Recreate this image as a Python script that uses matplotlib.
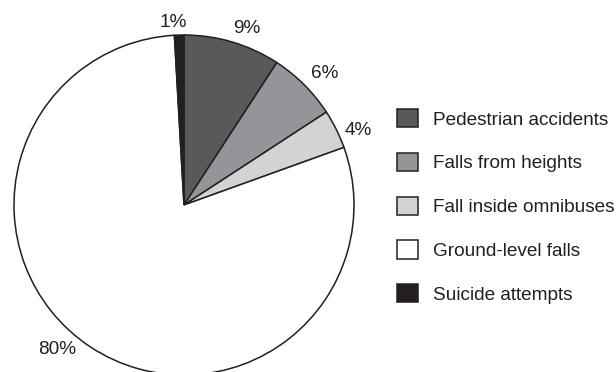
import numpy as np
import matplotlib
matplotlib.use("Agg")
import matplotlib.pyplot as plt
from matplotlib.patches import Patch

# ---- data ----
categories = ["Pedestrian accidents", "Falls from heights", "Fall inside omnibuses",
              "Ground-level falls", "Suicide attempts"]
shares = [9.2, 6.6, 3.7, 79.6, 0.9]
pct_labels = ["9%", "6%", "4%", "80%", "1%"]

# ---- styles / layout ----
colors = ["#58595b", "#939598", "#d1d3d4", "#ffffff", "#231f20"]
edge = "#231f20"
txt = "#231f20"
# label placement (polar angle in degrees, distance in radii)
label_pos = [(70.4, 1.105), (43.1, 1.136), (23.0, 1.115), (228.6, 1.13), (93.4, 1.078)]

plt.rcParams['font.family'] = ['Liberation Sans', 'DejaVu Sans']
W, H = 616, 372
fig = plt.figure(figsize=(W / 100, H / 100), dpi=100)
fig.patch.set_facecolor("white")

cx, cy, r = 184, 205, 170
ax = fig.add_axes([(cx - r) / W, (H - cy - r) / H, 2 * r / W, 2 * r / H])
wedges, _ = ax.pie(shares, colors=colors, startangle=90, counterclock=False,
                   radius=1.0, wedgeprops=dict(edgecolor=edge, linewidth=1.1))
ax.set_xlim(-1, 1)
ax.set_ylim(-1, 1)
ax.set_aspect('auto')
ax.axis('off')
for w in wedges:
    w.set_clip_on(False)

for lab, (ang, d) in zip(pct_labels, label_pos):
    a = np.deg2rad(ang)
    ax.text(d * np.cos(a), d * np.sin(a), lab, ha='center', va='center',
            fontsize=13.7, color=txt, clip_on=False)

handles = [Patch(facecolor=c, edgecolor=edge, linewidth=1.1) for c in colors]
leg = fig.legend(handles, categories, loc='upper left',
                 bbox_to_anchor=(397 / W, (H - 109) / H),
                 frameon=False, fontsize=13.7, borderpad=0, borderaxespad=0,
                 handlelength=1.1, handleheight=1.1, handletextpad=0.8,
                 labelspacing=1.27, labelcolor=txt)

fig.savefig("out.png", dpi=100, facecolor="white")
